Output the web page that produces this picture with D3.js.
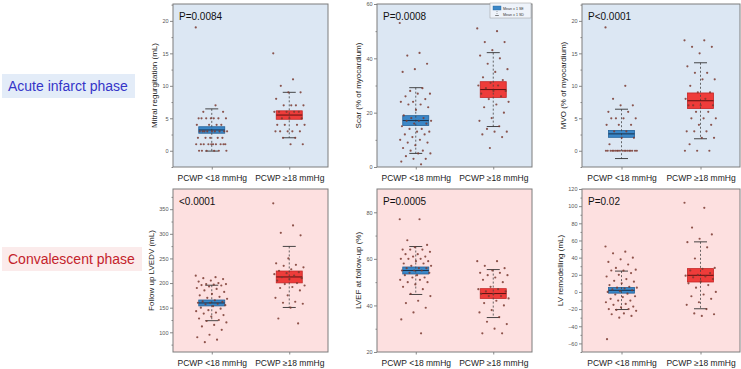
<!DOCTYPE html>
<html lang="en">
<head>
  <meta charset="utf-8">
  <title>PCWP groups - CMR outcomes</title>
  <script src="https://d3js.org/d3.v7.min.js"></script>
  <style>
    html, body { margin: 0; padding: 0; background: #fff; }
    svg { display: block; font-family: "Liberation Sans", Arial, sans-serif; }
  </style>
</head>
<body>
  <svg width="741" height="369"></svg>
  <script>
    // groups on the x axis
    const groups = ["PCWP <18 mmHg", "PCWP \u226518 mmHg"];

    // Mitral regurgitation (mL)
    const mrLow = [19, 7, 6, 6, 5, 5, 5, 5, 5, 5, 5, 4, 4, 4, 4, 3, 3, 3, 3, 3, 3, 3, 3, 3,
      2, 2, 2, 2, 2, 1, 1, 1, 1, 1, 1, 1, 1, 1, 1, 0, 0, 0, 0, 0, 0];
    const mrHigh = [15, 11, 10, 9, 9, 8, 7, 7, 7, 7, 6, 6, 6, 6, 6, 5, 5, 5, 4, 4, 4, 4,
      3, 3, 3, 3, 3, 2, 2, 1, 1];
    const mrMean = [3.2, 5.5], mrSE = [0.5, 0.65], mrSD = [3.25, 3.5];

    // Scar (% of myocardium)
    const scarLow = [53, 42, 41, 38, 36, 35, 29, 28, 27, 27, 26, 25, 24, 24, 23, 23, 22, 21,
      19, 18, 18, 17, 17, 17, 16, 16, 15, 14, 14, 13, 13, 12, 12, 11, 10, 10, 9, 9, 8, 7,
      6, 6, 5, 5, 4, 3, 3, 2, 1];
    const scarHigh = [51, 50, 46, 46, 43, 41, 40, 38, 36, 35, 33, 32, 31, 30, 30, 29, 28, 28,
      27, 26, 25, 24, 23, 22, 20, 18, 17, 15, 14, 13, 13, 12, 11, 7];
    const scarMean = [17.1, 28.5], scarSE = [1.8, 2.9], scarSD = [12.1, 13.6];

    // MVO (% of myocardium)
    const mvoLow = [19, 10, 8, 7, 7, 6, 6, 5, 5, 5, 5, 4, 4, 4, 3, 3, 2, 2, 1,
      0, 0, 0, 0, 0, 0, 0, 0, 0, 0, 0, 0, 0, 0, 0, 0, 0, 0];
    const mvoHigh = [17, 17, 16, 16, 15, 13, 12, 12, 11, 11, 10, 9, 9, 8, 8, 7, 7, 7, 7,
      6, 6, 5, 5, 5, 4, 4, 3, 3, 3, 2, 2, 1, 0, 0, 0];
    const mvoMean = [2.6, 7.7], mvoSE = [0.53, 1.2], mvoSD = [3.8, 5.85];

    // Follow up LVEDV (mL)
    const edvLow = [215, 212, 210, 208, 205, 203, 200, 198, 198, 197, 196, 195, 193, 190, 188,
      185, 182, 178, 175, 172, 170, 168, 165, 163, 162, 160, 160, 158, 157, 155, 153, 150,
      148, 145, 143, 140, 138, 135, 132, 128, 125, 123, 120, 115, 112, 105, 95, 90, 85, 80];
    const edvHigh = [362, 317, 302, 297, 250, 240, 237, 235, 232, 228, 225, 222, 220, 218, 215,
      212, 210, 208, 205, 200, 198, 195, 192, 190, 185, 175, 170, 162, 160, 158, 150, 128, 118];
    const edvMean = [159.6, 212.4], edvSE = [6, 12], edvSD = [36, 62];

    // LVEF at follow-up (%)
    const efLow = [77, 77, 68, 66, 65, 64, 64, 64, 63, 62, 62, 61, 61, 60, 60, 60, 59, 59, 58,
      58, 57, 57, 56, 56, 56, 55, 55, 55, 54, 54, 53, 53, 52, 52, 51, 51, 50, 50, 49, 48, 47,
      45, 44, 42, 41, 39, 37, 34, 28];
    const efHigh = [59, 59, 57, 56, 55, 54, 54, 53, 53, 52, 51, 50, 48, 47, 47, 46, 46, 45, 45,
      44, 44, 43, 42, 41, 40, 38, 37, 35, 33, 32, 30, 28, 28];
    const efMean = [55, 45.1], efSE = [1.5, 2.1], efSD = [10.3, 10.3];

    // LV remodelling (mL)
    const remLow = [53, 47, 45, 40, 38, 35, 32, 28, 26, 25, 25, 22, 20, 18, 15, 13, 12, 10, 8,
      6, 5, 5, 4, 3, 2, 1, 0, -2, -3, -5, -6, -8, -10, -10, -12, -14, -15, -17, -18, -20,
      -20, -21, -22, -25, -26, -28, -30, -55];
    const remHigh = [104, 98, 75, 67, 62, 58, 52, 39, 28, 27, 25, 22, 20, 19, 18, 17, 15, 12,
      10, 8, 5, 0, -3, -5, -8, -12, -15, -20, -25, -26, -28];
    const remMean = [1.9, 19.4], remSE = [3.3, 7.8], remSD = [22.4, 39];

    const svg = d3.select("svg");

    // row labels
    const rowLabels = [
      { text: "Acute infarct phase", y: 86, w: 133, fill: "#e3ecf8", color: "#3535c8" },
      { text: "Convalescent phase", y: 259, w: 140, fill: "#fbebeb", color: "#c4232b" }
    ];
    rowLabels.forEach(r => {
      svg.append("rect").attr("x", 2).attr("y", r.y - 12).attr("width", r.w).attr("height", 24)
        .attr("fill", r.fill);
      svg.append("text").attr("x", 8).attr("y", r.y + 5)
        .attr("font-size", 14).attr("fill", r.color).text(r.text);
    });

    const panels = [
      { col: 0, row: 0, title: "Mitral regurgitation (mL)", p: "P=0.0084", domain: [-2.5, 22.6],
        ticks: [0, 5, 10, 15, 20], minor: 2.5, data: [mrLow, mrHigh], mean: mrMean, se: mrSE, sd: mrSD },
      { col: 1, row: 0, title: "Scar (% of myocardium)", p: "P=0.0008", domain: [0, 60],
        ticks: [0, 20, 40, 60], minor: 10, data: [scarLow, scarHigh], mean: scarMean, se: scarSE, sd: scarSD, legend: true },
      { col: 2, row: 0, title: "MVO (% of myocardium)", p: "P<0.0001", domain: [-2.5, 22.6],
        ticks: [0, 5, 10, 15, 20], minor: 2.5, data: [mvoLow, mvoHigh], mean: mvoMean, se: mvoSE, sd: mvoSD },
      { col: 0, row: 1, title: "Follow up LVEDV (mL)", p: "<0.0001", domain: [60, 391],
        ticks: [100, 150, 200, 250, 300, 350], minor: 25, data: [edvLow, edvHigh], mean: edvMean, se: edvSE, sd: edvSD },
      { col: 1, row: 1, title: "LVEF at follow-up (%)", p: "P=0.0005", domain: [20, 90],
        ticks: [20, 40, 60, 80], minor: 10, data: [efLow, efHigh], mean: efMean, se: efSE, sd: efSD },
      { col: 2, row: 1, title: "LV remodelling (mL)", p: "P=0.02", domain: [-70, 120],
        ticks: [-60, -40, -20, 0, 20, 40, 60, 80, 100, 120], minor: 10, data: [remLow, remHigh], mean: remMean, se: remSE, sd: remSD }
    ];

    const colLeft = [173, 377, 582], colWidth = [155, 155, 158];
    const rowTop = [4, 189], rowHeight = 163;
    const rowBg = ["#dce7f3", "#fde0e0"];
    const boxFill = ["#3b87c7", "#ee3c3a"], boxStroke = ["#25639a", "#c42626"], meanStroke = ["#17324f", "#5c1212"];

    panels.forEach(cfg => {
      const left = colLeft[cfg.col], top = rowTop[cfg.row];
      const w = colWidth[cfg.col], h = rowHeight;
      const g = svg.append("g").attr("transform", `translate(${left},${top})`);

      const x = d3.scalePoint().domain(groups).range([0, w]).padding(0.5);
      const y = d3.scaleLinear().domain(cfg.domain).range([h, 0]);

      g.append("rect").attr("width", w).attr("height", h).attr("fill", rowBg[cfg.row]);

      // y axis with minor ticks
      const minorTicks = d3.range(Math.ceil(cfg.domain[0] / cfg.minor) * cfg.minor, cfg.domain[1], cfg.minor)
        .filter(v => !cfg.ticks.includes(v));
      g.append("g").call(d3.axisLeft(y).tickValues(minorTicks).tickSize(1.5).tickFormat(""))
        .call(a => a.select(".domain").remove())
        .selectAll("line").attr("stroke", "#888");
      const ya = g.append("g").call(d3.axisLeft(y).tickValues(cfg.ticks).tickSize(3).tickPadding(1.5));
      ya.select(".domain").remove();
      ya.selectAll("line").attr("stroke", "#888");
      ya.selectAll("text").attr("font-size", 5.5).attr("fill", "#555").attr("font-family", "Liberation Sans, Arial");

      // x axis
      const xa = g.append("g").attr("transform", `translate(0,${h})`)
        .call(d3.axisBottom(x).tickSize(2.5).tickPadding(5));
      xa.select(".domain").remove();
      xa.selectAll("line").attr("stroke", "#888");
      xa.selectAll("text").attr("font-size", 8.5).attr("fill", "#222").attr("font-family", "Liberation Sans, Arial");

      // axis title
      const maxChars = d3.max(cfg.ticks, t => String(t).length);
      g.append("text")
        .attr("transform", `translate(${-(maxChars * 3 + 10)},${h / 2}) rotate(-90)`)
        .attr("text-anchor", "middle").attr("font-size", 8).attr("fill", "#222")
        .text(cfg.title);

      groups.forEach((grp, i) => {
        const cx = x(grp);
        const m = cfg.mean[i], se = cfg.se[i], sd = cfg.sd[i];
        const bw = 26, cw = 13;

        // SE box
        g.append("rect").attr("x", cx - bw / 2).attr("y", y(m + se))
          .attr("width", bw).attr("height", y(m - se) - y(m + se))
          .attr("fill", boxFill[i]).attr("stroke", boxStroke[i]).attr("stroke-width", 0.8);
        // SD whisker (dashed) and caps
        g.append("line").attr("x1", cx).attr("x2", cx).attr("y1", y(m + sd)).attr("y2", y(m - sd))
          .attr("stroke", "#444").attr("stroke-width", 0.8).attr("stroke-dasharray", "2,2");
        [m + sd, m - sd].forEach(v => {
          g.append("line").attr("x1", cx - cw / 2).attr("x2", cx + cw / 2).attr("y1", y(v)).attr("y2", y(v))
            .attr("stroke", "#333").attr("stroke-width", 0.9);
        });
        g.append("line").attr("x1", cx - bw / 2).attr("x2", cx + bw / 2).attr("y1", y(m)).attr("y2", y(m))
          .attr("stroke", meanStroke[i]).attr("stroke-width", 1);

        // jittered raw points (deterministic spread by index)
        g.append("g").selectAll("circle").data(cfg.data[i]).join("circle")
          .attr("cx", (d, j) => cx + (((j * 0.618034) % 1) - 0.5) * 32)
          .attr("cy", d => y(d))
          .attr("r", 1.1)
          .attr("fill", "#7a3a30").attr("fill-opacity", 0.85);
      });

      g.append("rect").attr("width", w).attr("height", h)
        .attr("fill", "none").attr("stroke", "#7d7d7d").attr("stroke-width", 1);

      g.append("text").attr("x", 6).attr("y", 16).attr("font-size", 10).attr("fill", "#111")
        .text(cfg.p);

      if (cfg.legend) {
        const lg = g.append("g").attr("transform", `translate(${w - 42},${-1})`);
        lg.append("rect").attr("width", 41).attr("height", 15).attr("fill", "#eef3fa")
          .attr("stroke", "#999").attr("stroke-width", 0.5);
        lg.append("rect").attr("x", 3).attr("y", 3).attr("width", 8).attr("height", 4)
          .attr("fill", boxFill[0]).attr("stroke", boxStroke[0]).attr("stroke-width", 0.4);
        lg.append("line").attr("x1", 7).attr("x2", 7).attr("y1", 8).attr("y2", 13)
          .attr("stroke", "#444").attr("stroke-width", 0.5).attr("stroke-dasharray", "1,1");
        lg.append("line").attr("x1", 5).attr("x2", 9).attr("y1", 12.5).attr("y2", 12.5)
          .attr("stroke", "#333").attr("stroke-width", 0.5);
        lg.append("text").attr("x", 13).attr("y", 6.5).attr("font-size", 3.6).attr("fill", "#333").text("Mean \u00b1 1 SE");
        lg.append("text").attr("x", 13).attr("y", 12.5).attr("font-size", 3.6).attr("fill", "#333").text("Mean \u00b1 1 SD");
      }
    });
  </script>
</body>
</html>
